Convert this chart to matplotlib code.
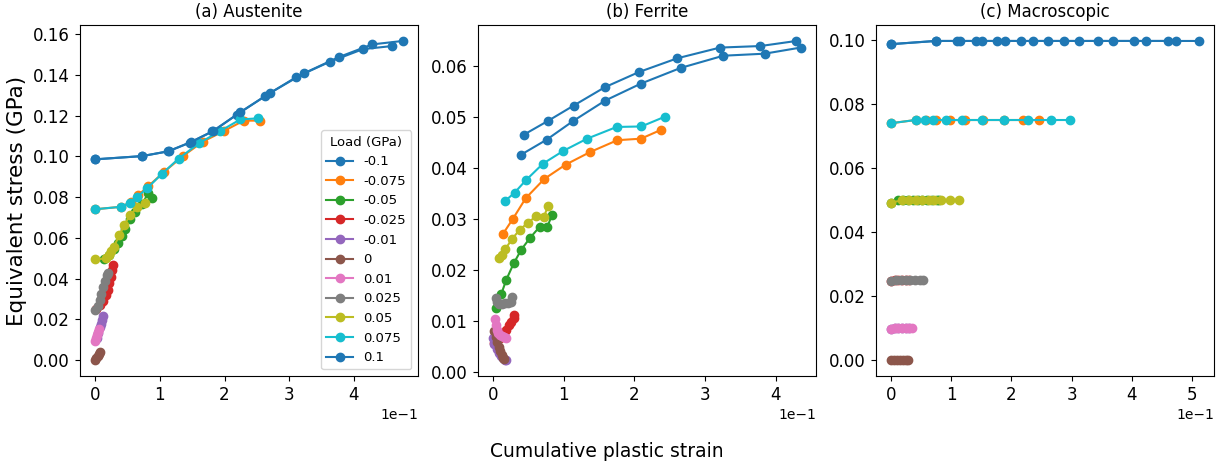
import matplotlib.pyplot as plt

loads = ['-0.1', '-0.075', '-0.05', '-0.025', '-0.01', '0',
         '0.01', '0.025', '0.05', '0.075', '0.1']
titles = ['(a) Austenite', '(b) Ferrite', '(c) Macroscopic']

# austenite: cumulative plastic strain / equivalent stress (GPa), one list per load
aus_strain = [
    [0, 0.073, 0.1125, 0.146, 0.181, 0.219, 0.263, 0.311, 0.3627, 0.414, 0.459],
    [0, 0.040, 0.056, 0.067, 0.0825, 0.107, 0.1357, 0.1667, 0.1997, 0.2296, 0.2544],
    [0.014, 0.022, 0.030, 0.035, 0.041, 0.047, 0.054, 0.062, 0.072, 0.0825, 0.0877],
    [0.002, 0.008, 0.013, 0.017, 0.0195, 0.022, 0.0245, 0.0268, 0.0284],
    [0.003, 0.005, 0.0077, 0.0095, 0.011, 0.0129],
    [0, 0.002, 0.004, 0.006, 0.008],
    [0, 0.0015, 0.003, 0.0045, 0.006],
    [0, 0.004, 0.0077, 0.010, 0.0129, 0.015, 0.018, 0.0196],
    [0, 0.017, 0.021, 0.025, 0.029, 0.0376, 0.0454, 0.054, 0.0655, 0.0774],
    [0, 0.040, 0.054, 0.0655, 0.0805, 0.103, 0.129, 0.160, 0.1935, 0.2245, 0.251],
    [0, 0.073, 0.114, 0.148, 0.183, 0.2245, 0.271, 0.3225, 0.3767, 0.428, 0.475],
]
aus_stress = [
    [0.0985, 0.1001, 0.1024, 0.1067, 0.1122, 0.1204, 0.1296, 0.1389, 0.1464, 0.1526, 0.1541],
    [0.074, 0.0752, 0.0775, 0.081, 0.0854, 0.0924, 0.1001, 0.1072, 0.1125, 0.1175, 0.1175],
    [0.0495, 0.0515, 0.0545, 0.0575, 0.061, 0.0645, 0.069, 0.0725, 0.0765, 0.0818, 0.0794],
    [0.025, 0.0268, 0.029, 0.032, 0.0345, 0.0378, 0.041, 0.0442, 0.0466],
    [0.011, 0.0135, 0.016, 0.0178, 0.0195, 0.0215],
    [0.0, 0.001, 0.002, 0.003, 0.004],
    [0.0093, 0.0108, 0.0124, 0.014, 0.0152],
    [0.0245, 0.0265, 0.0294, 0.0325, 0.036, 0.039, 0.0417, 0.0425],
    [0.0494, 0.0499, 0.0515, 0.0535, 0.0556, 0.0613, 0.0663, 0.0712, 0.0749, 0.0772],
    [0.074, 0.0752, 0.0772, 0.0802, 0.0843, 0.0913, 0.0988, 0.1063, 0.1124, 0.1181, 0.1186],
    [0.0985, 0.1001, 0.1025, 0.1069, 0.1124, 0.1217, 0.1312, 0.1407, 0.1487, 0.1549, 0.1566],
]

# ferrite
fer_strain = [
    [0.0438, 0.0778, 0.114, 0.158, 0.2065, 0.2607, 0.321, 0.378, 0.429],
    [0.0141, 0.0283, 0.0462, 0.0726, 0.1027, 0.1377, 0.1758, 0.2093, 0.237],
    [0.0047, 0.0117, 0.0188, 0.0292, 0.040, 0.0523, 0.066, 0.0768, 0.0834],
    [0.002, 0.006, 0.010, 0.015, 0.019, 0.023, 0.026, 0.029, 0.030],
    [0.0, 0.002, 0.005, 0.008, 0.011, 0.014, 0.017, 0.019],
    [0.002, 0.004, 0.006, 0.008, 0.010, 0.012, 0.014, 0.016],
    [0.003, 0.004, 0.005, 0.007, 0.010, 0.013, 0.016, 0.019],
    [0.004, 0.006, 0.009, 0.013, 0.017, 0.021, 0.025, 0.027],
    [0.008, 0.012, 0.0174, 0.0269, 0.0377, 0.0495, 0.0613, 0.0721, 0.0778],
    [0.0174, 0.0306, 0.0462, 0.0707, 0.0994, 0.133, 0.1748, 0.2098, 0.2427],
    [0.039, 0.0758, 0.1136, 0.1588, 0.2088, 0.2653, 0.3257, 0.3842, 0.435],
]
fer_stress = [
    [0.0466, 0.0493, 0.0523, 0.0559, 0.0589, 0.0616, 0.0637, 0.0640, 0.0650],
    [0.0271, 0.0301, 0.0341, 0.0379, 0.0407, 0.0432, 0.0455, 0.0458, 0.0475],
    [0.0125, 0.0153, 0.0181, 0.0213, 0.0240, 0.0263, 0.0285, 0.0285, 0.0308],
    [0.0056, 0.0062, 0.0066, 0.0072, 0.0083, 0.0091, 0.0098, 0.0105, 0.0111],
    [0.0066, 0.0055, 0.0045, 0.0037, 0.0031, 0.0027, 0.0024, 0.0023],
    [0.0080, 0.0068, 0.0058, 0.0048, 0.0040, 0.0033, 0.0028, 0.0025],
    [0.0103, 0.0092, 0.0083, 0.0077, 0.0073, 0.0070, 0.0068, 0.0066],
    [0.0144, 0.0138, 0.0134, 0.0133, 0.0135, 0.0136, 0.0138, 0.0146],
    [0.0224, 0.0230, 0.0241, 0.0261, 0.0279, 0.0293, 0.0306, 0.0305, 0.0326],
    [0.0336, 0.0352, 0.0376, 0.0409, 0.0434, 0.0458, 0.0481, 0.0482, 0.0501],
    [0.0426, 0.0456, 0.0493, 0.0533, 0.0566, 0.0597, 0.0621, 0.0625, 0.0637],
]

# macroscopic
mac_strain = [
    [0, 0.074, 0.110, 0.1417, 0.1767, 0.2162, 0.2612, 0.3128, 0.3695, 0.424, 0.474],
    [0, 0.0407, 0.0573, 0.075, 0.0973, 0.1228, 0.1528, 0.1878, 0.2195, 0.2462],
    [0, 0.012, 0.020, 0.028, 0.036, 0.044, 0.052, 0.060, 0.068, 0.076, 0.080],
    [0, 0.006, 0.012, 0.018, 0.024, 0.030],
    [0, 0.006, 0.012, 0.018, 0.024, 0.030],
    [0, 0.005, 0.010, 0.015, 0.020, 0.025, 0.028],
    [0, 0.006, 0.012, 0.018, 0.024, 0.030, 0.035],
    [0, 0.008, 0.016, 0.024, 0.032, 0.040, 0.048, 0.053],
    [0, 0.0183, 0.0295, 0.0407, 0.0517, 0.0628, 0.0712, 0.0823, 0.0973, 0.1128],
    [0, 0.0407, 0.0562, 0.0695, 0.0907, 0.1183, 0.1517, 0.1878, 0.2283, 0.2657, 0.2973],
    [0, 0.074, 0.1145, 0.1507, 0.1895, 0.2362, 0.2878, 0.3445, 0.4045, 0.4607, 0.5112],
]
mac_stress = [
    [0.0987, 0.0997, 0.0997, 0.0997, 0.0997, 0.0997, 0.0997, 0.0997, 0.0997, 0.0997, 0.0997],
    [0.074, 0.075, 0.075, 0.075, 0.075, 0.075, 0.075, 0.075, 0.075, 0.075],
    [0.0492, 0.0499, 0.0499, 0.0499, 0.0499, 0.0499, 0.0499, 0.0499, 0.0499, 0.0499, 0.0499],
    [0.0247, 0.0249, 0.0249, 0.0249, 0.0249, 0.0249],
    [0.0098, 0.0099, 0.0099, 0.0099, 0.0099, 0.0099],
    [0.0, 0.0, 0.0, 0.0, 0.0, 0.0, 0.0],
    [0.0098, 0.0099, 0.0099, 0.0099, 0.0099, 0.0099, 0.0099],
    [0.0247, 0.0249, 0.0249, 0.0249, 0.0249, 0.0249, 0.0249, 0.0249],
    [0.0492, 0.0499, 0.0499, 0.0499, 0.0499, 0.0499, 0.0499, 0.0499, 0.0499, 0.0499],
    [0.074, 0.075, 0.075, 0.075, 0.075, 0.075, 0.075, 0.075, 0.075, 0.075, 0.075],
    [0.0987, 0.0997, 0.0997, 0.0997, 0.0997, 0.0997, 0.0997, 0.0997, 0.0997, 0.0997, 0.0997],
]

fig, axes = plt.subplots(1, 3, figsize=(12.29, 4.70), dpi=100)
plt.subplots_adjust(left=0.0648, right=0.9878, bottom=0.2, top=0.9468, wspace=0.1766)

data = [(aus_strain, aus_stress), (fer_strain, fer_stress), (mac_strain, mac_stress)]
for ax, title, (xs, ys) in zip(axes, titles, data):
    for x, y, lab in zip(xs, ys, loads):
        ax.plot(x, y, 'o-', label=lab)
    ax.set_title(title, fontsize=12)
    ax.ticklabel_format(axis='x', style='sci', scilimits=(0, 0))
    ax.tick_params(labelsize=12)

axes[0].set_ylabel('Equivalent stress (GPa)', fontsize=15.5)
axes[0].legend(title='Load (GPa)', loc='lower right', fontsize=9.5, title_fontsize=9.5,
               labelspacing=0.5)
fig.supxlabel('Cumulative plastic strain', fontsize=13.5, x=0.494, y=0.02)

plt.savefig('out.png')
